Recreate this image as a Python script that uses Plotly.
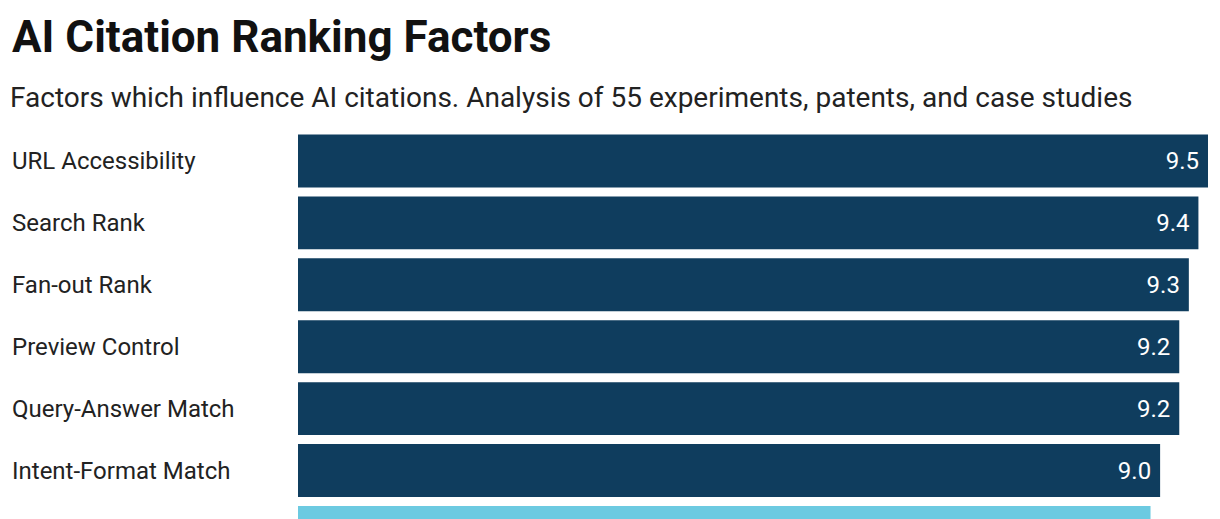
import plotly.graph_objects as go

# data (last row is cut off by the bottom edge)
factors = ["URL Accessibility", "Search Rank", "Fan-out Rank", "Preview Control",
           "Query-Answer Match", "Intent-Format Match", "Content Structure"]
scores = [9.5, 9.4, 9.3, 9.2, 9.2, 9.0, 8.9]

title = "AI Citation Ranking Factors"
subtitle = "Factors which influence AI citations. Analysis of 55 experiments, patents, and case studies"

# page body has an 8px margin, so the figure is shifted by that much
OFF = 8
W, H = 1220 - OFF, 519 - OFF
plot_left, plot_right = 298 - OFF, 1208 - OFF
plot_top = 129.5 - OFF
row_px = 62
first_row_center = 160.5 - OFF

navy = "#0f3d5e"
light = "#6ccae1"
colors = [navy if s >= 9.0 else light for s in scores]

plot_h = H - plot_top
plot_w = plot_right - plot_left

def px_x(p):  # screen pixel -> paper x
    return (p - OFF - plot_left) / plot_w

def px_y(p):  # screen pixel -> paper y
    return (H - (p - OFF)) / plot_h

bottom_idx = (H - first_row_center) / row_px
visible = [i <= bottom_idx - 0.3 for i in range(len(factors))]

fig = go.Figure(go.Bar(
    x=scores, y=factors, orientation="h",
    marker=dict(color=colors, line=dict(width=0)),
    texttemplate="%{x:.1f}\u00a0",
    textposition=["inside" if v else "none" for v in visible],
    insidetextanchor="end",
    textfont=dict(family="Roboto", size=24, color="white"),
    hoverinfo="skip",
))

# left-aligned category labels
for f, v in zip(factors, visible):
    if not v:
        continue
    fig.add_annotation(x=px_x(10), xref="paper", y=f, yref="y", text=f,
                       xanchor="left", yanchor="middle", showarrow=False,
                       font=dict(family="Roboto", size=24, color="#222222"))

fig.add_annotation(x=px_x(10), xref="paper", y=px_y(36), yref="paper",
                   text="<b>" + title + "</b>", xanchor="left", yanchor="middle",
                   showarrow=False, font=dict(family="Roboto", size=44, color="#111111"))
fig.add_annotation(x=px_x(8), xref="paper", y=px_y(97), yref="paper",
                   text=subtitle, xanchor="left", yanchor="middle",
                   showarrow=False, font=dict(family="Roboto", size=28, color="#222222"))

fig.update_layout(
    width=W, height=H,
    margin=dict(l=plot_left, r=W - plot_right, t=plot_top, b=0, pad=0),
    paper_bgcolor="white", plot_bgcolor="white",
    bargap=9 / 62, showlegend=False,
    xaxis=dict(range=[0, max(scores)], visible=False, fixedrange=True),
    yaxis=dict(range=[bottom_idx, -0.5], showticklabels=False, showgrid=False,
               zeroline=False, fixedrange=True),
)

fig.write_html("out.html", config={"displayModeBar": False})
